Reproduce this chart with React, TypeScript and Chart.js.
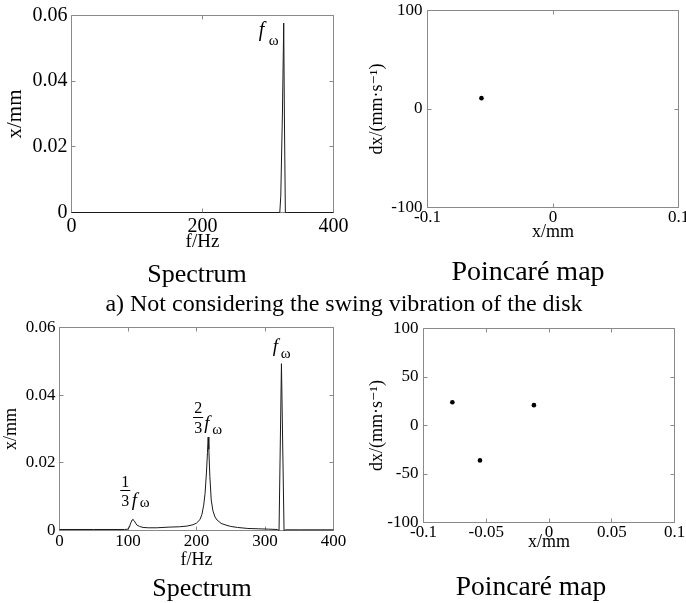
import React, { useEffect, useRef } from "react";
import { Chart, registerables } from "chart.js";

Chart.register(...registerables);

// ---------- data ----------
const specTopFreq = [0, 100, 200, 300, 318, 319.5, 322, 324, 325, 326.5, 330, 360, 400];
const specTopAmp = [0, 0, 0, 0, 0, 0.005, 0.03, 0.0577, 0.03, 0, 0, 0, 0];

const specBotFreq = [0, 50, 95, 100, 102, 104, 106, 107, 109, 111, 113, 117, 122, 130, 142, 160, 175, 186, 195, 200, 205, 208, 210.5, 212.5, 214.5, 216, 217, 218, 219.5, 221.5, 224, 227, 230, 236, 243, 250, 260, 275, 290, 305, 318, 320.5, 324, 327.8, 330, 350, 400];
const specBotAmp = [0.0003, 0.0003, 0.0003, 0.0004, 0.001, 0.0022, 0.0031, 0.0033, 0.0029, 0.0022, 0.0016, 0.0012, 0.0009, 0.0008, 0.0008, 0.001, 0.0011, 0.0013, 0.0017, 0.0022, 0.0032, 0.0048, 0.0075, 0.011, 0.017, 0.023, 0.0276, 0.024, 0.016, 0.009, 0.0058, 0.004, 0.0031, 0.0021, 0.0016, 0.0012, 0.0009, 0.0006, 0.0005, 0.0004, 0.0003, 0, 0.0493, 0, 0.0002, 0.0002, 0.0002];

const poinTopX = [-0.057];
const poinTopY = [11];
const poinBotX = [-0.077, -0.012, -0.055];
const poinBotY = [24, 21, -36];

const specTopXTicks = [0, 200, 400];
const specBotXTicks = [0, 100, 200, 300, 400];
const specYTicks = [0, 0.02, 0.04, 0.06];
const poinTopXTicks = [-0.1, 0, 0.1];
const poinTopYTicks = [-100, 0, 100];
const poinBotXTicks = [-0.1, -0.05, 0, 0.05, 0.1];
const poinBotYTicks = [-100, -50, 0, 50, 100];

const captionSpectrum = "Spectrum";
const captionPoincare = "Poincaré map";
const captionMiddle = "a) Not considering the swing vibration of the disk";
const labelFreq = "f/Hz";
const labelAmp = "x/mm";
const labelX = "x/mm";
const labelVel = "dx/(mm·s⁻¹)";

// peak annotation anchors [freq, amplitude]
const peakTopMain = [324, 0.0577];
const peakBotMain = [324, 0.0493];
const peakBotTwoThirds = [217, 0.0276];
const peakBotOneThird = [107, 0.0033];

const SERIF = "'Liberation Serif', 'Times New Roman', 'DejaVu Serif', serif";

const frameTicks = {
  id: "frameTicks",
  beforeDatasetsDraw(chart: any) {
    const { ctx, chartArea: a } = chart;
    const xs = chart.scales.x;
    const ys = chart.scales.y;
    ctx.save();
    ctx.strokeStyle = "#8a8a8a";
    ctx.lineWidth = 1;
    ctx.beginPath();
    ctx.rect(a.left, a.top, a.right - a.left, a.bottom - a.top);
    const len = 4;
    xs.ticks.forEach((t: any) => {
      const p = Math.round(xs.getPixelForValue(t.value) - 0.5) + 0.5;
      ctx.moveTo(p, a.bottom);
      ctx.lineTo(p, a.bottom - len);
      ctx.moveTo(p, a.top);
      ctx.lineTo(p, a.top + len);
    });
    ys.ticks.forEach((t: any) => {
      const p = Math.round(ys.getPixelForValue(t.value) - 0.5) + 0.5;
      ctx.moveTo(a.left, p);
      ctx.lineTo(a.left + len, p);
      ctx.moveTo(a.right, p);
      ctx.lineTo(a.right - len, p);
    });
    ctx.stroke();
    ctx.restore();
  },
};

type Part = { t?: string; font?: string; dx: number; dy: number; align?: string; w?: number };
type Ann = { at: number[]; parts: Part[] };

function labelPlugin(items: Ann[]) {
  return {
    id: "peakLabels",
    afterDatasetsDraw(chart: any) {
      const { ctx } = chart;
      const xs = chart.scales.x;
      const ys = chart.scales.y;
      ctx.save();
      ctx.fillStyle = "#000";
      ctx.strokeStyle = "#000";
      ctx.textBaseline = "alphabetic";
      items.forEach((it) => {
        const px = xs.getPixelForValue(it.at[0]);
        const py = ys.getPixelForValue(it.at[1]);
        it.parts.forEach((p) => {
          if (p.w) {
            const y = Math.round(py + p.dy) + 0.5;
            ctx.lineWidth = 1;
            ctx.beginPath();
            ctx.moveTo(px + p.dx, y);
            ctx.lineTo(px + p.dx + p.w, y);
            ctx.stroke();
          } else {
            ctx.font = p.font;
            ctx.textAlign = p.align || "left";
            ctx.fillText(p.t, px + p.dx, py + p.dy);
          }
        });
      });
      ctx.restore();
    },
  };
}

const fw = (fs: number, ws: number, fdx: number, fdy: number, wdx: number, wdy: number): Part[] => [
  { t: "f", font: `italic ${fs}px ${SERIF}`, dx: fdx, dy: fdy },
  { t: "ω", font: `${ws}px ${SERIF}`, dx: wdx, dy: wdy },
];

type PanelProps = {
  rect: { x: number; y: number; w: number; h: number };
  area: { l: number; t: number; r: number; b: number };
  datasets: any[];
  xRange: number[];
  yRange: number[];
  xTicks: number[];
  yTicks: number[];
  tickSize: number;
  xPad: number;
  yPad: number;
  xTitle: string;
  yTitle: string;
  xTitleSize: number;
  yTitleSize: number;
  xTitleCenter: number;
  yTitleCenter: number;
  anns: Ann[];
};

function Panel(props: PanelProps) {
  const ref = useRef<HTMLCanvasElement>(null);
  useEffect(() => {
    const { rect, area } = props;
    const yAxisW = area.l - rect.x;
    const xAxisH = rect.y + rect.h - area.b;
    const padTop = area.t - rect.y;
    const padRight = rect.x + rect.w - area.r;
    const yLH = props.yTitleSize * 1.2;
    const xLH = props.xTitleSize * 1.2;
    const chart = new Chart(ref.current as HTMLCanvasElement, {
      type: "scatter",
      data: { datasets: props.datasets },
      options: {
        animation: false,
        responsive: false,
        devicePixelRatio: 1,
        events: [],
        layout: { padding: { left: 0, top: padTop, right: padRight, bottom: 0 } },
        plugins: { legend: { display: false }, tooltip: { enabled: false } },
        scales: {
          x: {
            type: "linear",
            min: props.xRange[0],
            max: props.xRange[1],
            grid: { display: false, drawTicks: false, tickLength: 0 },
            border: { display: false },
            afterBuildTicks: (s: any) => {
              s.ticks = props.xTicks.map((v) => ({ value: v }));
            },
            afterFit: (s: any) => {
              s.height = xAxisH;
            },
            ticks: {
              color: "#000",
              font: { family: SERIF, size: props.tickSize },
              padding: props.xPad,
              maxRotation: 0,
              autoSkip: false,
              callback: (v: any) => String(v),
            },
            title: {
              display: true,
              text: props.xTitle,
              color: "#000",
              font: { family: SERIF, size: props.xTitleSize },
              padding: { top: 0, bottom: rect.y + rect.h - props.xTitleCenter - xLH / 2 },
            },
          },
          y: {
            type: "linear",
            min: props.yRange[0],
            max: props.yRange[1],
            grid: { display: false, drawTicks: false, tickLength: 0 },
            border: { display: false },
            afterBuildTicks: (s: any) => {
              s.ticks = props.yTicks.map((v) => ({ value: v }));
            },
            afterFit: (s: any) => {
              s.width = yAxisW;
            },
            ticks: {
              color: "#000",
              font: { family: SERIF, size: props.tickSize },
              padding: props.yPad,
              autoSkip: false,
              callback: (v: any) => String(v),
            },
            title: {
              display: true,
              text: props.yTitle,
              color: "#000",
              font: { family: SERIF, size: props.yTitleSize },
              padding: { top: props.yTitleCenter - rect.x - yLH / 2, bottom: 0 },
            },
          },
        },
      } as any,
      plugins: [frameTicks, labelPlugin(props.anns)],
    });
    return () => chart.destroy();
  }, []);
  const { rect } = props;
  return (
    <canvas
      ref={ref}
      width={rect.w}
      height={rect.h}
      style={{ position: "absolute", left: rect.x, top: rect.y, width: rect.w, height: rect.h }}
    />
  );
}

const lineSet = (xs: number[], ys: number[]) => ({
  data: xs.map((x, i) => ({ x, y: ys[i] })),
  showLine: true,
  borderColor: "#1a1a1a",
  borderWidth: 1,
  pointRadius: 0,
  tension: 0,
  clip: 4,
});

const dotSet = (xs: number[], ys: number[]) => ({
  data: xs.map((x, i) => ({ x, y: ys[i] })),
  showLine: false,
  pointRadius: 2.3,
  pointBackgroundColor: "#000",
  pointBorderWidth: 0,
  clip: 4,
});

function Caption(p: { text: string; cx: number; top: number; size: number }) {
  return (
    <div
      style={{
        position: "absolute",
        left: p.cx - 300,
        width: 600,
        top: p.top,
        textAlign: "center",
        fontFamily: SERIF,
        fontSize: p.size,
        lineHeight: `${p.size}px`,
        color: "#000",
        whiteSpace: "nowrap",
      }}
    >
      {p.text}
    </div>
  );
}

export default function App() {
  return (
    <div
      style={{
        position: "absolute",
        left: 0,
        top: 0,
        width: 686,
        height: 603,
        overflow: "hidden",
        background: "#fff",
      }}
    >
      <Panel
        rect={{ x: 0, y: -10, w: 360, h: 280 }}
        area={{ l: 71.5, t: 15.5, r: 333.5, b: 212.5 }}
        datasets={[lineSet(specTopFreq, specTopAmp)]}
        xRange={[0, 400]}
        yRange={[0, 0.06]}
        xTicks={specTopXTicks}
        yTicks={specYTicks}
        tickSize={20}
        xPad={2}
        yPad={4}
        xTitle={labelFreq}
        yTitle={labelAmp}
        xTitleSize={19}
        yTitleSize={21}
        xTitleCenter={242}
        yTitleCenter={15}
        anns={[{ at: peakTopMain, parts: fw(20, 15, -25, 13.4, -15, 21.9) }]}
      />
      <Panel
        rect={{ x: 360, y: -20, w: 360, h: 290 }}
        area={{ l: 427.5, t: 10.5, r: 678.5, b: 207.5 }}
        datasets={[dotSet(poinTopX, poinTopY)]}
        xRange={[-0.1, 0.1]}
        yRange={[-100, 100]}
        xTicks={poinTopXTicks}
        yTicks={poinTopYTicks}
        tickSize={17}
        xPad={0}
        yPad={5}
        xTitle={labelX}
        yTitle={labelVel}
        xTitleSize={18}
        yTitleSize={18}
        xTitleCenter={232}
        yTitleCenter={377}
        anns={[]}
      />
      <Panel
        rect={{ x: 0, y: 300, w: 360, h: 280 }}
        area={{ l: 59.5, t: 327.5, r: 333.5, b: 530.5 }}
        datasets={[lineSet(specBotFreq, specBotAmp)]}
        xRange={[0, 400]}
        yRange={[0, 0.06]}
        xTicks={specBotXTicks}
        yTicks={specYTicks}
        tickSize={17}
        xPad={1}
        yPad={4}
        xTitle={labelFreq}
        yTitle={labelAmp}
        xTitleSize={18}
        yTitleSize={18}
        xTitleCenter={560}
        yTitleCenter={11.5}
        anns={[
          { at: peakBotMain, parts: fw(19, 15, -8.7, -11.8, -0.7, -5.3) },
          {
            at: peakBotTwoThirds,
            parts: [
              { t: "2", font: `16px ${SERIF}`, dx: -10, dy: -24, align: "center" },
              { dx: -15, dy: -20, w: 10 },
              { t: "3", font: `16px ${SERIF}`, dx: -10, dy: -4, align: "center" },
              ...fw(19, 15, -4, -8, 4, -3),
            ],
          },
          {
            at: peakBotOneThird,
            parts: [
              { t: "1", font: `16px ${SERIF}`, dx: -7.5, dy: -32, align: "center" },
              { dx: -12.5, dy: -29, w: 10 },
              { t: "3", font: `16px ${SERIF}`, dx: -7.5, dy: -13, align: "center" },
              ...fw(19, 15, -1, -13.3, 7, -12),
            ],
          },
        ]}
      />
      <Panel
        rect={{ x: 360, y: 300, w: 360, h: 270 }}
        area={{ l: 423.5, t: 328.5, r: 674.5, b: 522.5 }}
        datasets={[dotSet(poinBotX, poinBotY)]}
        xRange={[-0.1, 0.1]}
        yRange={[-100, 100]}
        xTicks={poinBotXTicks}
        yTicks={poinBotYTicks}
        tickSize={17}
        xPad={0}
        yPad={5}
        xTitle={labelX}
        yTitle={labelVel}
        xTitleSize={18}
        yTitleSize={18}
        xTitleCenter={542}
        yTitleCenter={377}
        anns={[]}
      />
      <Caption text={captionSpectrum} cx={197} top={261.2} size={26} />
      <Caption text={captionPoincare} cx={528} top={256.5} size={28} />
      <Caption text={captionMiddle} cx={344} top={291} size={24} />
      <Caption text={captionSpectrum} cx={202} top={575.2} size={26} />
      <Caption text={captionPoincare} cx={531} top={572} size={27.5} />
    </div>
  );
}
